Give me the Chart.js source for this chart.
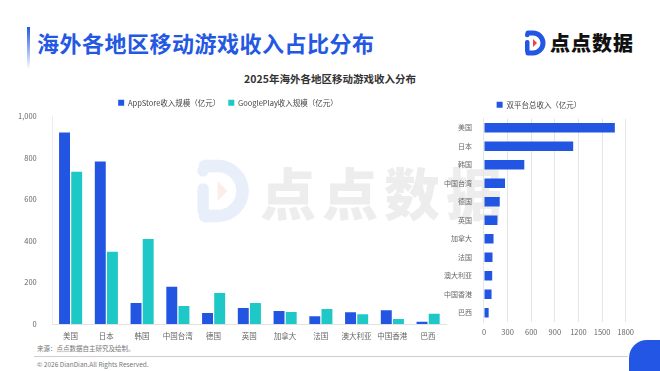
<!DOCTYPE html>
<html>
<head>
<meta charset="utf-8">
<script src="https://cdn.jsdelivr.net/npm/chart.js@4/dist/chart.umd.min.js"></script>
<style>
  body { margin: 0; background: #fff; font-family: "Noto Sans CJK SC", "Noto Sans", sans-serif; }
  .page { position: relative; width: 660px; height: 371px; overflow: hidden; background: #fff; }
  .accent { position: absolute; left: 27px; top: 27px; width: 3px; height: 42px;
            background: linear-gradient(#2356e4, rgba(35,86,228,0)); }
  .title { position: absolute; left: 37px; top: 26px; font-size: 22px; font-weight: 700; color: #2458e2; letter-spacing: 0.5px; }
  .logo { position: absolute; left: 522px; top: 28px; display: flex; align-items: center; }
  .logo span { font-size: 20px; font-weight: 900; color: #111; margin-left: 4px; letter-spacing: 1px; }
  .subtitle { position: absolute; left: 0; width: 660px; top: 71px; text-align: center; font-size: 10.5px; font-weight: 700; color: #333; }
  .wm { position: absolute; left: 190px; top: 150px; display: flex; align-items: center; opacity: 0.4; }
  .wm span { font-size: 56px; font-weight: 900; color: #d4d4d4; margin-left: 10px; letter-spacing: 6px; }
  .source { position: absolute; left: 37px; top: 343px; font-size: 6.5px; color: #777; }
  .rule { position: absolute; left: 34px; top: 356px; width: 594px; height: 1px; background: #cfcfcf; }
  .copy { position: absolute; left: 37px; top: 359px; font-size: 6.5px; color: #777; }
  .corner { position: absolute; left: 629px; top: 340px; width: 50px; height: 50px; border-radius: 18px; background: #2356e4; }
  #leftChart { position: absolute; left: 10px; top: 91px; }
  #rightChart { position: absolute; left: 440px; top: 93px; }
</style>
</head>
<body>
<div class="page">
  <div class="accent"></div>
  <div class="title">海外各地区移动游戏收入占比分布</div>
  <div class="logo">
    <svg width="24" height="26" viewBox="0 0 24 26">
      <path d="M6 3 H11 A10 10 0 0 1 11 23 H6" fill="none" stroke="#2356e4" stroke-width="5" stroke-linecap="round"/>
      <rect x="3" y="10" width="4.5" height="13" rx="2" fill="#2356e4"/>
      <circle cx="5.2" cy="5" r="2.3" fill="#2356e4"/>
      <path d="M11 9 L15 13 L11 17 Z" fill="#f0443a"/>
    </svg>
    <span>点点数据</span>
  </div>
  <div class="subtitle">2025年海外各地区移动游戏收入分布</div>

  <div class="wm">
    <svg width="60" height="66" viewBox="0 0 24 26">
      <path d="M6 3 H11 A10 10 0 0 1 11 23 H6" fill="none" stroke="#c9d6f6" stroke-width="5" stroke-linecap="round"/>
      <rect x="3" y="10" width="4.5" height="13" rx="2" fill="#c9d6f6"/>
      <circle cx="5.2" cy="5" r="2.3" fill="#c9d6f6"/>
      <path d="M11 9 L15 13 L11 17 Z" fill="#f8d4cf"/>
    </svg>
    <span>点点数据</span>
  </div>

  <canvas id="leftChart" width="440" height="250"></canvas>
  <canvas id="rightChart" width="200" height="250"></canvas>

  <div class="source">来源：点点数据自主研究及绘制。</div>
  <div class="rule"></div>
  <div class="copy">© 2026 DianDian.All Rights Reserved.</div>
  <div class="corner"></div>
</div>

<script>
// Regions (left grouped bars)
const regions = ['美国', '日本', '韩国', '中国台湾', '德国', '英国', '加拿大', '法国', '澳大利亚', '中国香港', '巴西'];
const appStore = [923, 783, 101, 179, 53, 77, 63, 37, 57, 66, 11];
const googlePlay = [734, 348, 410, 87, 150, 101, 58, 72, 47, 24, 50];
// Totals
const totals = [1662, 1133, 512, 267, 200, 171, 121, 108, 104, 96, 59];

const leftTicks = [0, 200, 400, 600, 800, 1000];
const rightTicks = [0, 300, 600, 900, 1200, 1500, 1800];

const blue = '#2255e2';
const teal = '#1ec8c6';
const tickColor = '#666';
const fontFamily = '"Noto Sans CJK SC", "Noto Sans", sans-serif';

Chart.defaults.font.family = fontFamily;
Chart.defaults.animation = false;

new Chart(document.getElementById('leftChart'), {
    type: 'bar',
    data: {
        labels: regions,
        datasets: [
            { label: 'AppStore收入规模（亿元）', data: appStore, backgroundColor: blue,
              categoryPercentage: 0.68, barPercentage: 0.9 },
            { label: 'GooglePlay收入规模（亿元）', data: googlePlay, backgroundColor: teal,
              categoryPercentage: 0.68, barPercentage: 0.9 }
        ]
    },
    options: {
        responsive: false,
        layout: { padding: { left: 0, right: 4, top: 0, bottom: 0 } },
        plugins: {
            legend: {
                position: 'top',
                labels: { boxWidth: 6, boxHeight: 6, padding: 8, color: '#444', font: { size: 7.5 } }
            },
            tooltip: { enabled: false }
        },
        scales: {
            x: {
                grid: { display: false },
                border: { color: '#e2e2e2' },
                ticks: { color: tickColor, font: { size: 7.5 }, padding: 0, maxRotation: 0, autoSkip: false }
            },
            y: {
                min: 0,
                max: 1000,
                afterBuildTicks: function(axis) {
                    axis.ticks = leftTicks.map(v => ({ value: v }));
                },
                grid: { display: false },
                border: { color: '#ececec' },
                ticks: {
                    color: tickColor, font: { size: 7.5 }, padding: 8,
                    callback: v => v.toLocaleString('en-US')
                }
            }
        }
    }
});

new Chart(document.getElementById('rightChart'), {
    type: 'bar',
    data: {
        labels: regions,
        datasets: [
            { label: '双平台总收入（亿元）', data: totals, backgroundColor: blue,
              categoryPercentage: 0.55, barPercentage: 0.92 }
        ]
    },
    options: {
        indexAxis: 'y',
        responsive: false,
        layout: { padding: { left: 0, right: 2, top: 0, bottom: 0 } },
        plugins: {
            legend: {
                position: 'top',
                labels: { boxWidth: 6, boxHeight: 6, padding: 8, color: '#444', font: { size: 7.5 } }
            },
            tooltip: { enabled: false }
        },
        scales: {
            x: {
                min: 0,
                max: 1800,
                afterBuildTicks: function(axis) {
                    axis.ticks = rightTicks.map(v => ({ value: v }));
                },
                grid: { color: '#e6e6e6', drawTicks: false },
                border: { display: false },
                ticks: { color: tickColor, font: { size: 7.5 }, padding: 6, maxRotation: 0, autoSkip: false,
                         callback: v => String(v) }
            },
            y: {
                grid: { display: false },
                border: { color: '#e6e6e6' },
                ticks: { color: tickColor, font: { size: 7 }, padding: 4, autoSkip: false }
            }
        }
    }
});
</script>
</body>
</html>
